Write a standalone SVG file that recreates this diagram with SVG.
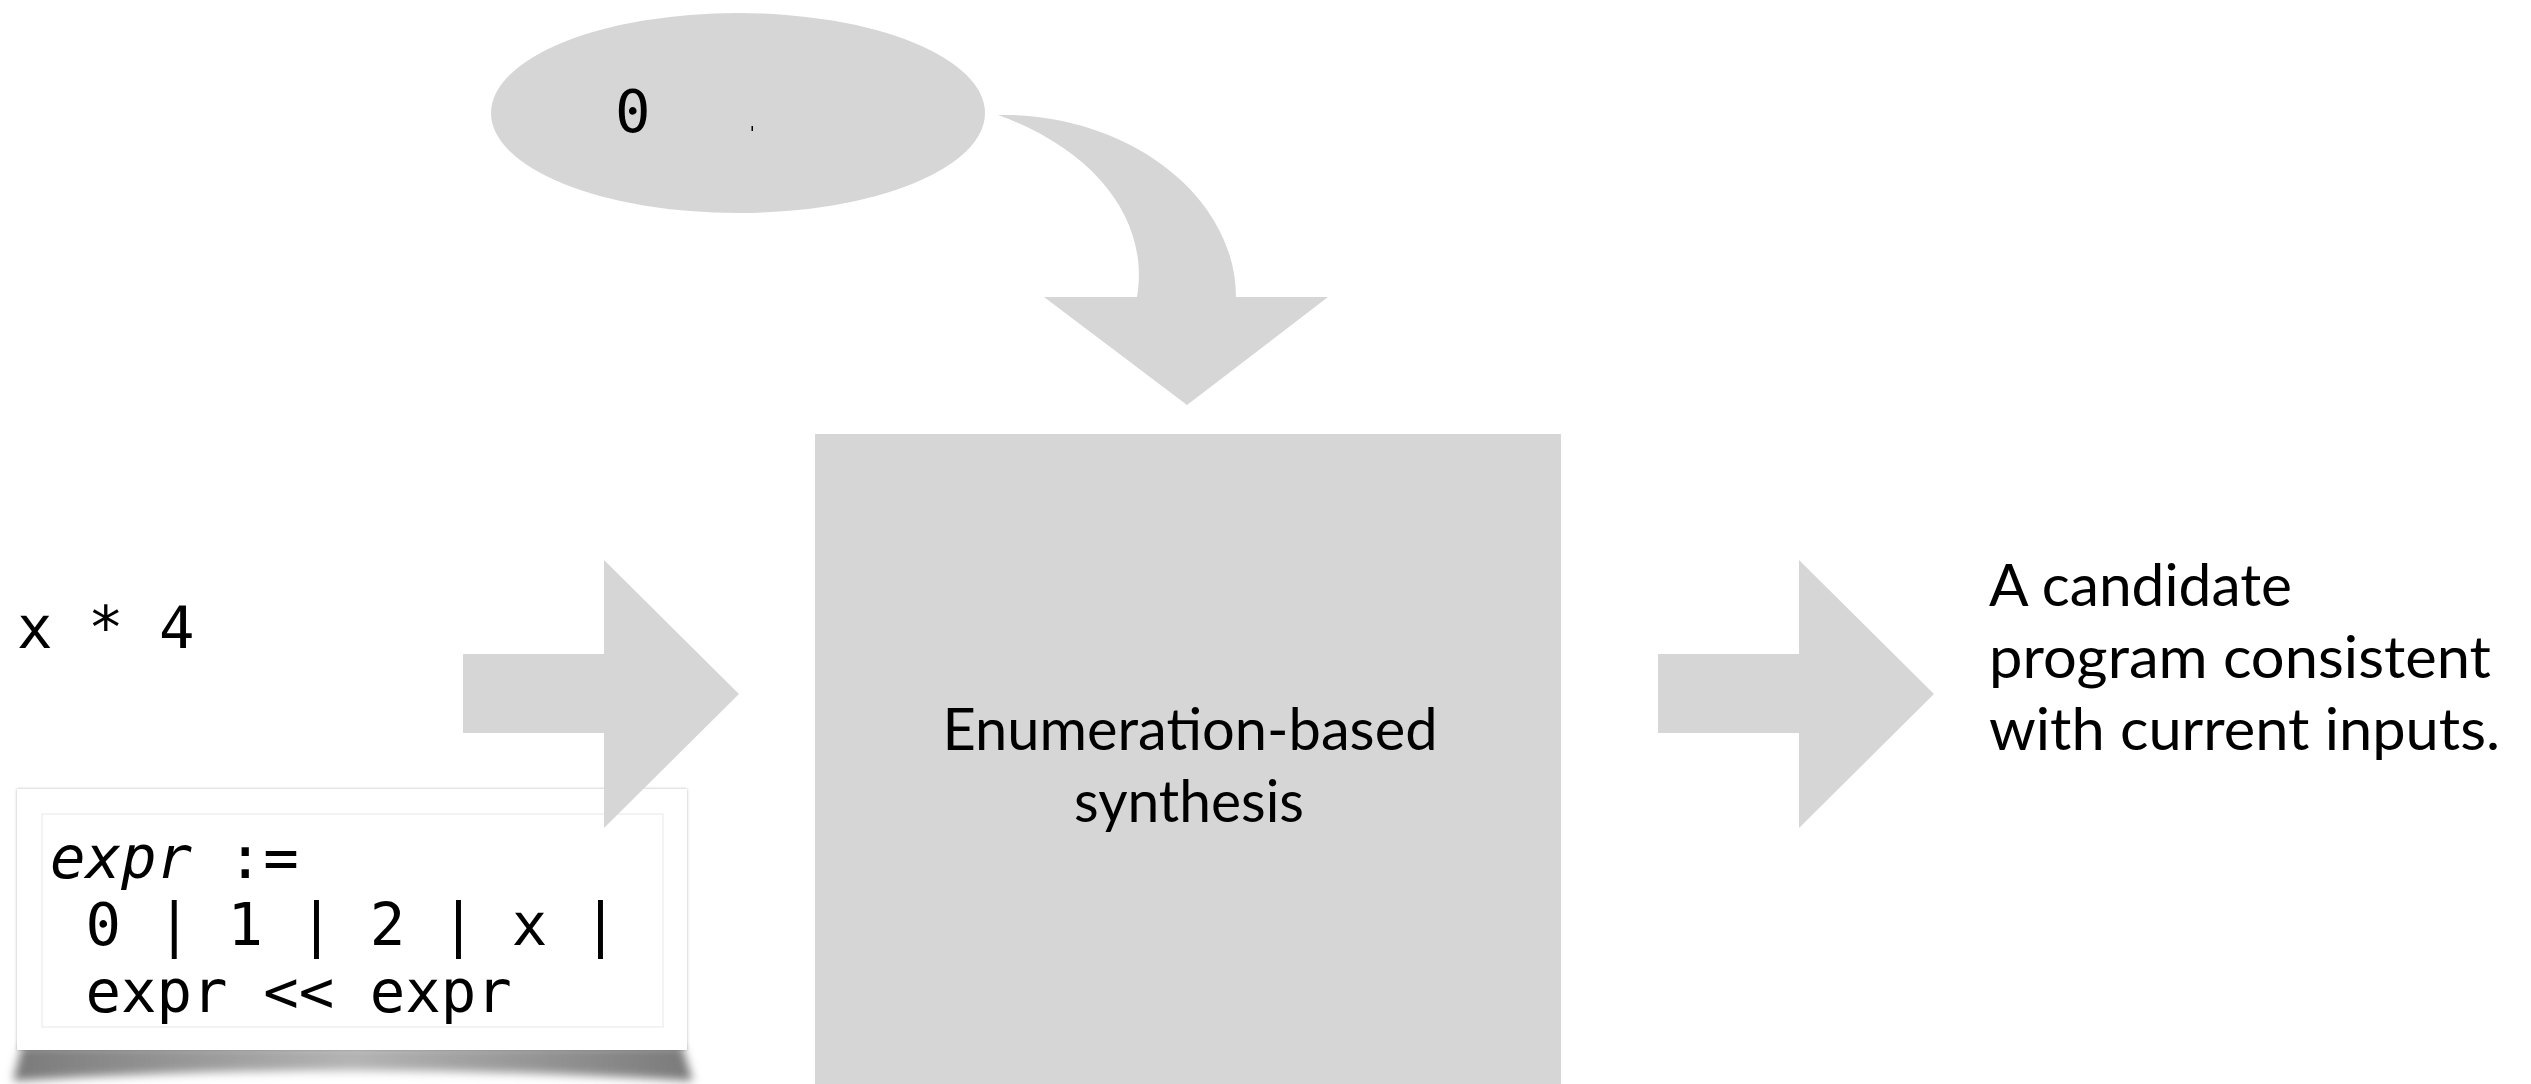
<svg xmlns="http://www.w3.org/2000/svg" width="2531" height="1084" viewBox="0 0 2531 1084">
  <style>
    .shape { fill: #d6d6d6; }
    .sans { font-family: "Lato", "Open Sans", "Liberation Sans", sans-serif; font-size: 58px; fill: #000; }
    .mono { font-family: "DejaVu Sans Mono", "Liberation Mono", monospace; font-size: 59px; fill: #000; }
    .it { font-style: italic; }
  </style>
  <defs>
    <filter id="blur" x="-10%" y="-50%" width="120%" height="200%">
      <feGaussianBlur stdDeviation="5"/>
    </filter>
    <filter id="edge" x="-5%" y="-5%" width="110%" height="110%">
      <feDropShadow dx="0" dy="0" stdDeviation="1.5" flood-color="#000" flood-opacity="0.3"/>
    </filter>
    <linearGradient id="shadowGrad" x1="0" y1="0" x2="1" y2="0">
      <stop offset="0" stop-color="#7a7a7a"/>
      <stop offset="0.5" stop-color="#b4b4b4"/>
      <stop offset="1" stop-color="#7a7a7a"/>
    </linearGradient>
  </defs>

  <g id="node-ellipse">
    <ellipse class="shape" cx="738" cy="113" rx="247" ry="100"/>
    <text class="mono" x="615" y="132">0</text>
    <rect x="751.5" y="126" width="1.5" height="5" fill="#000"/>
  </g>

  <g id="node-synthesis">
    <rect class="shape" x="815" y="434" width="746" height="650"/>
    <text class="sans" x="1190" y="750" text-anchor="middle" textLength="495" lengthAdjust="spacingAndGlyphs">Enumeration-based</text>
    <text class="sans" x="1189" y="822" text-anchor="middle" textLength="230" lengthAdjust="spacingAndGlyphs">synthesis</text>
  </g>

  <g id="node-example">
    <text class="mono" x="17" y="648" xml:space="preserve">x * 4</text>
  </g>

  <g id="node-grammar">
    <path d="M22,1046 L682,1046 L693,1081 Q355,1060 13,1081 Z" fill="url(#shadowGrad)" filter="url(#blur)"/>
    <rect x="17" y="789" width="670" height="261" fill="#fff" filter="url(#edge)"/>
    <rect x="17" y="789" width="670" height="261" fill="#fff"/>
    <rect x="42" y="814" width="621" height="213" fill="none" stroke="#efefef" stroke-width="1.5"/>
    <text class="mono" x="50" y="878" xml:space="preserve"><tspan class="it">expr</tspan> :=</text>
    <text class="mono" x="50" y="945" xml:space="preserve"> 0 | 1 | 2 | x |</text>
    <text class="mono" x="50" y="1012" xml:space="preserve"> expr &lt;&lt; expr</text>
  </g>

  <g id="node-output">
    <text class="sans" x="1989" y="606" textLength="303" lengthAdjust="spacingAndGlyphs">A candidate</text>
    <text class="sans" x="1989" y="678" textLength="502" lengthAdjust="spacingAndGlyphs">program consistent</text>
    <text class="sans" x="1989" y="750" textLength="511" lengthAdjust="spacingAndGlyphs">with current inputs.</text>
  </g>

  <!-- connectors -->
  <g id="connectors">
    <path id="curved-arrow" class="shape" d="M998,115 C1129,113 1236,197 1236,297 L1328,297 L1187,405 L1044,297 L1137,297 C1150,220 1095,150 998,115 Z"/>
    <path id="left-arrow" class="shape" d="M463,654 H604 V560 L739,694 L604,828 V733 H463 Z"/>
    <path id="right-arrow" class="shape" d="M1658,654 H1799 V560 L1934,694 L1799,828 V733 H1658 Z"/>
  </g>
</svg>
